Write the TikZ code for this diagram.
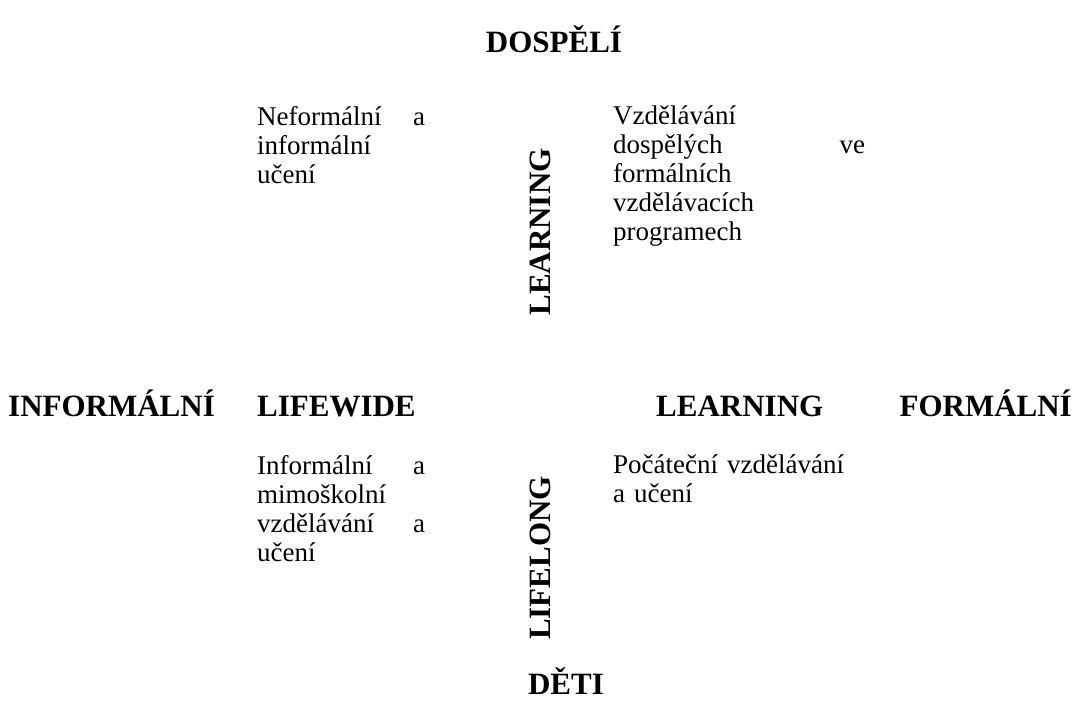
\documentclass[tikz,border=0pt]{standalone}
\usepackage{fontspec}
\setmainfont{Liberation Serif}
\usepackage{tikz}
\usetikzlibrary{positioning}

\begin{document}
\begin{tikzpicture}[
  x=1pt, y=-1pt,
  lab/.style={inner sep=0pt, font=\fontsize{31}{36}\selectfont\bfseries},
  body/.style={inner sep=0pt, align=left, anchor=north west,
               font=\fontsize{27}{29}\selectfont},
  vert/.style={lab, rotate=90, anchor=base}
]
\useasboundingbox (0,0) rectangle (1078,716);

% Top and bottom: age groups
\node[lab, anchor=base] (dospeli) at (554,52) {DOSPĚLÍ};
\node[lab, anchor=base] (deti) at (566,694) {DĚTI};

% Middle row
\node[lab, anchor=base west] (informalni) at (8,416) {INFORMÁLNÍ};
\node[lab, anchor=base west] (lifewide) at (257,416) {LIFEWIDE};
\node[lab, anchor=base west] (learningh) at (656,416) {LEARNING};
\node[lab, anchor=base east] (formalni) at (1072,416) {FORMÁLNÍ};

% Vertical axis labels
\node[vert] (learningv) at (550,232) {LEARNING};
\node[vert] (lifelong) at (550,558) {LIFELONG};

% Quadrant texts
\node[body, text width=168pt] (topleft) at (257,106)
  {Neformální \hfill a\\informální\\učení};
\node[body, text width=252pt] (topright) at (613,106)
  {Vzdělávání\\dospělých \hfill ve\\formálních\\vzdělávacích\\programech};
\node[body, text width=168pt] (botleft) at (257,455)
  {Informální \hfill a\\mimoškolní\\vzdělávání \hfill a\\učení};
\node[body, text width=252pt] (botright) at (613,455)
  {Počáteční vzdělávání\\a učení};

\end{tikzpicture}
\end{document}
